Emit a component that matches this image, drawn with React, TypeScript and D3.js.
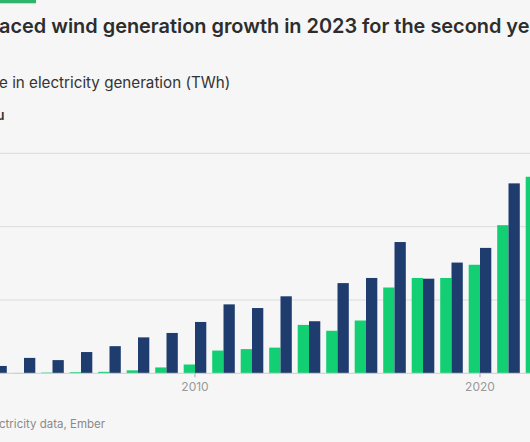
import React from "react";
import * as d3 from "d3";

const years = [2003, 2004, 2005, 2006, 2007, 2008, 2009, 2010, 2011, 2012, 2013, 2014, 2015, 2016, 2017, 2018, 2019, 2020, 2021, 2022];
const solar: (number | null)[] = [null, 0.5, 1, 1.5, 2, 4, 8, 12, 31, 33, 35, 66, 58, 72, 117, 130, 130, 148, 202, 268];
const wind: (number | null)[] = [10, 21, 18, 29, 37, 49, 55, 70, 94, 89, 105, 71, 123, 130, 179, 129, 151, 171, 259, null];
const seriesKeys = ["Solar", "Wind"];
const yTicks = [100, 200, 300];
const xTickYears = [2010, 2020];

const W = 530;
const H = 442;
const GREEN = "#13cf74";
const BLUE = "#1e3d6e";

export default function App() {
  React.useEffect(() => {
    document.body.style.margin = "0";
    document.body.style.background = "#f6f6f6";
  }, []);

  const x = d3.scaleLinear().domain([2010, 2020]).range([195, 480]);
  const y = d3.scaleLinear().domain([0, 300]).range([373.3, 153.3]);
  const inner = d3.scaleBand<string>().domain(seriesKeys).range([-11.3, 11.3]).padding(0);
  const data = [solar, wind];
  const colors = [GREEN, BLUE];

  return (
    <svg width={W} height={H} style={{ display: "block", position: "absolute", left: 0, top: 0, background: "#f6f6f6" }}>
      <rect x={0} y={0} width={W} height={H} fill="#f6f6f6" />
      <rect x={0} y={0} width={36} height={3.3} fill="#2fb56b" />
      <text x={-1} y={33} fontFamily="Inter, 'Noto Sans', sans-serif" fontWeight={600} fontSize={19.9} fill="#2d2d2d">
        aced wind generation growth in 2023 for the second year
      </text>
      <text x={-1} y={88} fontFamily="Inter, 'Noto Sans', sans-serif" fontSize={15.2} fill="#333">
        e in electricity generation (TWh)
      </text>
      <text x={-3.5} y={120} fontFamily="Inter, 'Noto Sans', sans-serif" fontWeight={600} fontSize={13} fill="#333">
        u
      </text>

      {yTicks.map((t) => (
        <line key={t} x1={0} x2={W} y1={y(t)} y2={y(t)} stroke="#dcdcdc" strokeWidth={1} />
      ))}

      {data.map((series, si) =>
        series.map((v, i) =>
          v == null ? null : (
            <rect
              key={`${si}-${i}`}
              x={x(years[i]) + (inner(seriesKeys[si]) as number)}
              y={y(v)}
              width={inner.bandwidth()}
              height={y(0) - y(v)}
              fill={colors[si]}
            />
          )
        )
      )}

      <line x1={0} x2={W} y1={y(0)} y2={y(0)} stroke="#cfcfcf" strokeWidth={1} />
      {xTickYears.map((t) => (
        <g key={t}>
          <line x1={x(t)} x2={x(t)} y1={y(0)} y2={y(0) + 4} stroke="#aaa" strokeWidth={1} />
          <text x={x(t)} y={391} textAnchor="middle" fontFamily="Inter, 'Noto Sans', sans-serif" fontSize={12} fill="#999">
            {t}
          </text>
        </g>
      ))}

      <text x={-1} y={428} fontFamily="Inter, 'Noto Sans', sans-serif" fontSize={11.5} fill="#8a8a8a">
        ctricity data, Ember
      </text>
    </svg>
  );
}
